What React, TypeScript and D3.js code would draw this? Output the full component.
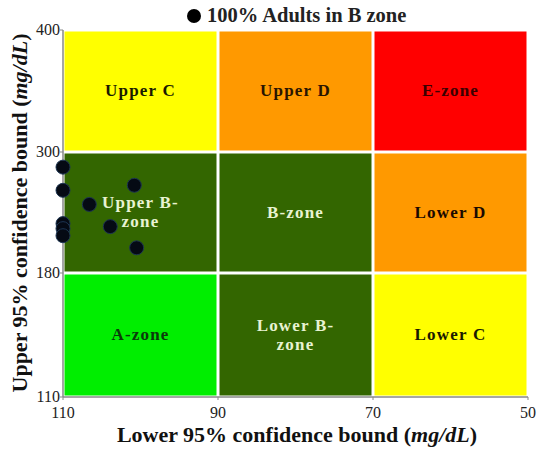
import * as d3 from "d3";

// zone grid: x breaks (lower bound) and y breaks (upper bound)
const xBreaks = [110, 90, 70, 50];
const yBreaks = [110, 180, 300, 400];

// rows from top to bottom, columns left to right
const zoneNames = [
  ["Upper C", "Upper D", "E-zone"],
  ["Upper B-\nzone", "B-zone", "Lower D"],
  ["A-zone", "Lower B-\nzone", "Lower C"],
];
const zoneFills = [
  ["#ffff00", "#ff9900", "#ff0000"],
  ["#336600", "#336600", "#ff9900"],
  ["#00ee00", "#336600", "#ffff00"],
];
const zoneText = [
  ["#1a1a00", "#2a1400", "#3a0000"],
  ["#e8f3d2", "#e8f3d2", "#1a0a00"],
  ["#0b3a0b", "#e8f3d2", "#1a1a00"],
];

// subjects: lower bound (x), upper bound (y)
const lowerVals = [110, 110, 106.6, 110, 110, 110, 103.9, 100.8, 100.5];
const upperVals = [285, 262, 248, 229, 224, 217, 226, 267, 205];

const serif = "Liberation Serif";
const width = 538;
const height = 450;

const x = d3.scaleLinear().domain([110, 50]).range([63, 528]);
// piecewise scale: the four breaks sit evenly on screen
const y = d3.scaleLinear().domain(yBreaks).range([397, 273, 152, 30]);

const cells: { r: number; c: number }[] = [];
for (let r = 0; r < 3; r++) for (let c = 0; c < 3; c++) cells.push({ r, c });

export default function App() {
  const gap = 1.5;
  const axisColor = "#888";
  const x0 = x.range()[0];
  const yBottom = y(yBreaks[0]);
  const lineH = 19;

  return (
    <svg
      width={width}
      height={height}
      style={{ position: "absolute", left: 0, top: 0, background: "#fff", fontFamily: serif }}
    >
      {cells.map((d) => {
        const left = x(xBreaks[d.c]);
        const right = x(xBreaks[d.c + 1]);
        const top = y(yBreaks[3 - d.r]);
        const bottom = y(yBreaks[2 - d.r]);
        const lines = zoneNames[d.r][d.c].split("\n");
        const cx = (left + right) / 2;
        const cy = (top + bottom) / 2 - ((lines.length - 1) * lineH) / 2 + 5;
        return (
          <g key={`${d.r}-${d.c}`}>
            <rect
              x={left + gap}
              y={top + gap}
              width={right - left - 2 * gap}
              height={bottom - top - 2 * gap}
              fill={zoneFills[d.r][d.c]}
            />
            <text
              x={cx}
              y={cy}
              textAnchor="middle"
              fill={zoneText[d.r][d.c]}
              style={{ fontFamily: serif, fontWeight: "bold", fontSize: "17px", letterSpacing: "1.2px" }}
            >
              {lines.map((l, i) => (
                <tspan key={i} x={cx} dy={i === 0 ? 0 : lineH}>
                  {l}
                </tspan>
              ))}
            </text>
          </g>
        );
      })}

      {/* x axis */}
      <g>
        <line x1={x0} x2={x.range()[1]} y1={yBottom} y2={yBottom} stroke={axisColor} strokeWidth={1.5} />
        {xBreaks.map((v) => (
          <g key={v} transform={`translate(${x(v)},${yBottom})`}>
            <line y2={3} stroke={axisColor} />
            <text y={21} textAnchor="middle" fill="#222" style={{ fontFamily: serif, fontSize: "16px" }}>
              {v}
            </text>
          </g>
        ))}
      </g>

      {/* y axis */}
      <g>
        <line x1={x0} x2={x0} y1={y(yBreaks[3])} y2={yBottom} stroke={axisColor} strokeWidth={1.5} />
        {yBreaks.map((v) => (
          <g key={v} transform={`translate(${x0},${y(v)})`}>
            <line x2={-3} stroke={axisColor} />
            <text x={-3} dy="0.32em" textAnchor="end" fill="#222" style={{ fontFamily: serif, fontSize: "16px" }}>
              {v}
            </text>
          </g>
        ))}
      </g>

      {/* subject points */}
      {lowerVals.map((v, i) => (
        <circle
          key={i}
          cx={x(v)}
          cy={y(upperVals[i])}
          r={7}
          fill="#050a14"
          stroke="#1d3552"
          strokeWidth={1}
        />
      ))}

      {/* legend */}
      <circle cx={194} cy={16} r={7} fill="#000" />
      <text x={207} y={22} fill="#222" style={{ fontFamily: serif, fontWeight: "bold", fontSize: "20.5px" }}>
        100% Adults in B zone
      </text>

      {/* axis titles */}
      <text
        x={297}
        y={442}
        textAnchor="middle"
        fill="#111"
        style={{ fontFamily: serif, fontWeight: "bold", fontSize: "22px" }}
      >
        Lower 95% confidence bound (<tspan style={{ fontStyle: "italic" }}>mg/dL</tspan>)
      </text>
      <text
        transform="translate(27,213) rotate(-90)"
        textAnchor="middle"
        fill="#111"
        style={{ fontFamily: serif, fontWeight: "bold", fontSize: "22px" }}
      >
        Upper 95% confidence bound (<tspan style={{ fontStyle: "italic" }}>mg/dL</tspan>)
      </text>
    </svg>
  );
}
